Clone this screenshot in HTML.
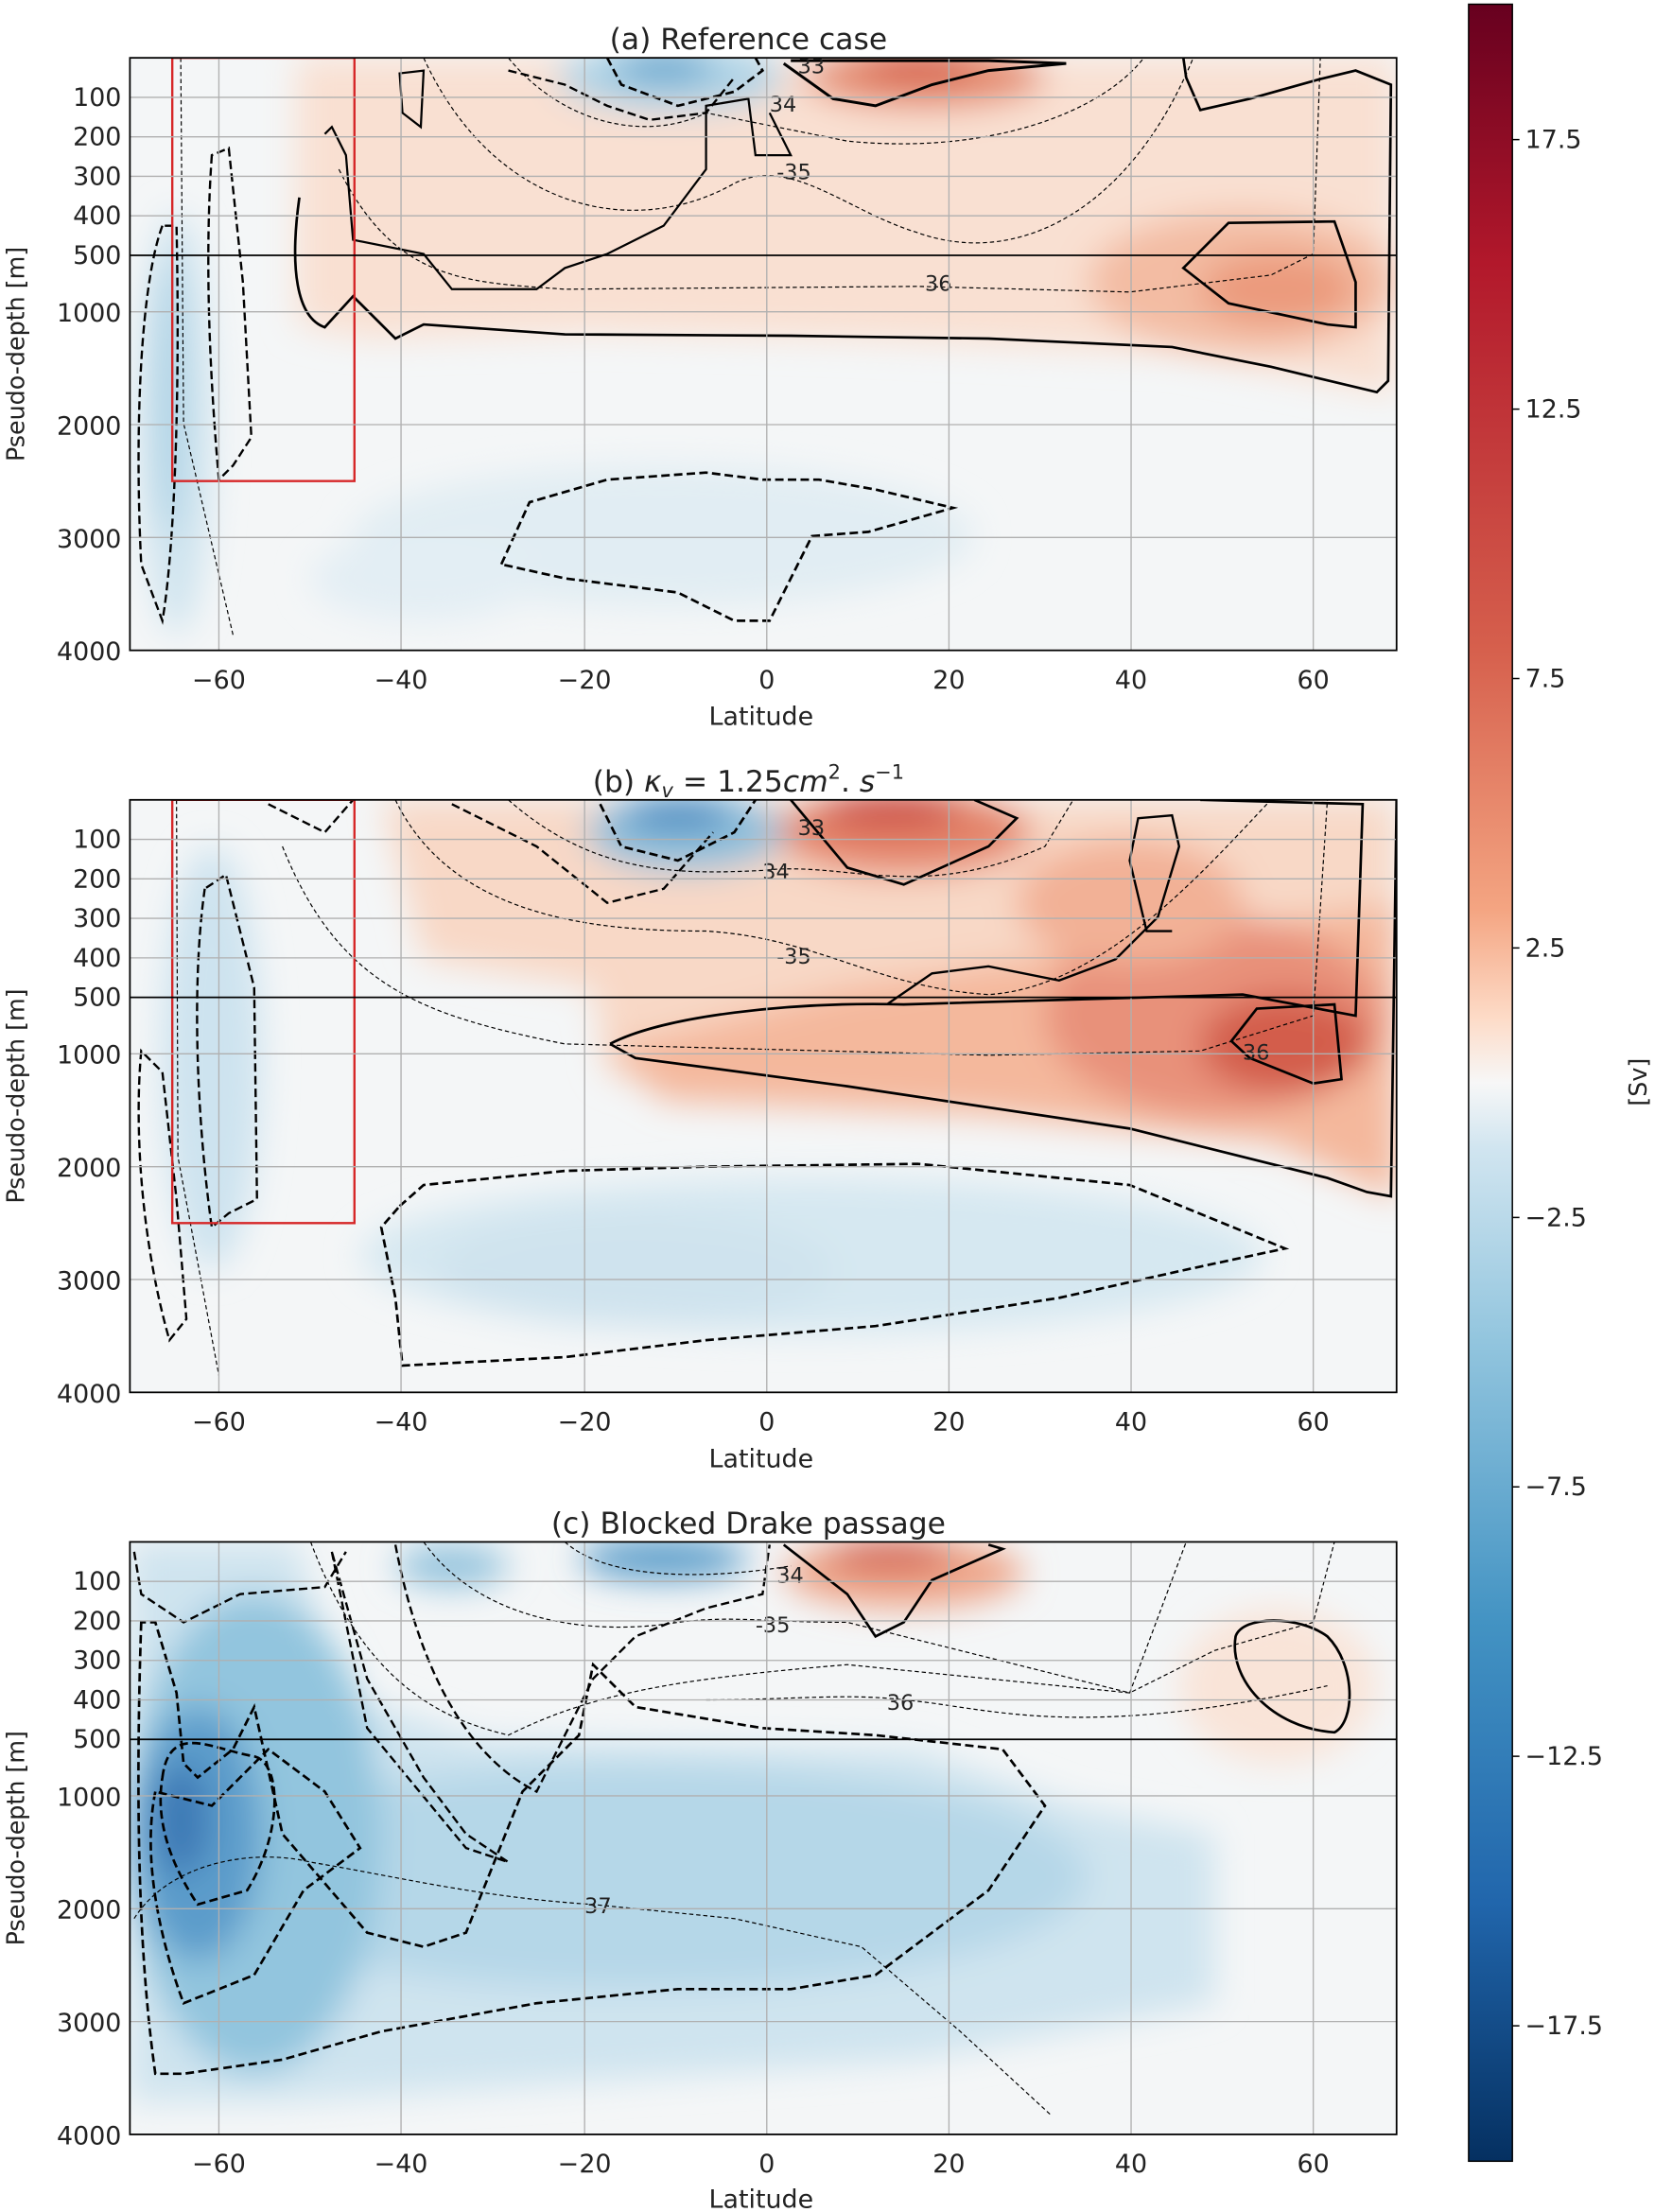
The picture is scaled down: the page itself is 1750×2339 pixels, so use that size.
<!DOCTYPE html>
<html><head><meta charset="utf-8"><style>
html,body{margin:0;padding:0;background:#fff;}
svg{display:block;}
text{font-family:"DejaVu Sans","Liberation Sans",sans-serif;fill:#222;}
</style></head><body>
<svg width="1750" height="2339" viewBox="0 0 1172 1568" preserveAspectRatio="none" xmlns="http://www.w3.org/2000/svg">
<defs>
<filter id="b1" x="-50%" y="-50%" width="200%" height="200%"><feGaussianBlur stdDeviation="12"/></filter>
<clipPath id="ca"><rect x="92" y="41" width="897" height="420"/></clipPath>
<clipPath id="cb"><rect x="92" y="567" width="897" height="420"/></clipPath>
<clipPath id="cc"><rect x="92" y="1093" width="897" height="420"/></clipPath>
<linearGradient id="cbar" x1="0" y1="0" x2="0" y2="1">
<stop offset="0" stop-color="#67001f"/><stop offset="0.12" stop-color="#b2182b"/><stop offset="0.3" stop-color="#d6604d"/><stop offset="0.42" stop-color="#f4a582"/><stop offset="0.47" stop-color="#fddbc7"/><stop offset="0.5" stop-color="#f7f7f7"/><stop offset="0.53" stop-color="#d1e5f0"/><stop offset="0.62" stop-color="#92c5de"/><stop offset="0.75" stop-color="#4393c3"/><stop offset="0.88" stop-color="#2166ac"/><stop offset="1" stop-color="#053061"/>
</linearGradient>
</defs>

<!-- Panel A -->
<g clip-path="url(#ca)">
<rect x="92" y="41" width="897" height="420" fill="#f4f6f7"/>
<g filter="url(#b1)">
<path d="M210,41 L989,41 L989,280 L830,250 L600,240 L420,235 L260,240 L210,230 Z" fill="#f9e0d2"/>
<ellipse cx="880" cy="200" rx="110" ry="50" fill="#f3bca3"/>
<ellipse cx="905" cy="205" rx="55" ry="25" fill="#eb9a7c"/>
<ellipse cx="655" cy="55" rx="85" ry="22" fill="#e58c70"/>
<ellipse cx="650" cy="48" rx="40" ry="10" fill="#d6604d"/>
<ellipse cx="475" cy="55" rx="80" ry="24" fill="#aed3e6"/>
<ellipse cx="470" cy="48" rx="35" ry="10" fill="#5fa2cc"/>
<ellipse cx="125" cy="300" rx="25" ry="150" fill="#cfe4ef"/>
<ellipse cx="120" cy="280" rx="10" ry="100" fill="#a9d0e4"/>
<ellipse cx="470" cy="380" rx="220" ry="50" fill="#e1edf3"/>
<ellipse cx="300" cy="410" rx="80" ry="30" fill="#e3eef4"/>
</g>
<g fill="none" stroke="#000">
<path d="M212,140 C205,190 210,225 230,232 L250,210 L280,240 L300,230 L400,237 L560,238 L700,240 L830,246 L900,260 L975,278 L983,270 L985,60 L960,50 L935,56 L885,70 L850,78 L840,55 L838,41" stroke-width="1.8"/>
<path d="M230,95 L235,90 L245,110 L250,170 L300,180 L320,205 L380,205 L400,190 L430,180 L470,160 L500,120 L500,75 L530,70 L535,110 L560,110 L545,80" stroke-width="1.5"/>
<path d="M283,52 L300,50 L298,90 L285,80 Z" stroke-width="1.5"/>
<path d="M838,190 L870,158 L945,157 L960,200 L960,232 L940,230 L870,215 Z" stroke-width="1.8"/>
<path d="M555,45 L590,70 L620,75 L660,60 L700,50 L755,45 L700,43 L560,43" stroke-width="2"/>
<path d="M430,41 L440,60 L480,75 L520,65 L540,50 L535,41" stroke-width="1.8" stroke-dasharray="6,3"/>
<path d="M360,50 L400,60 L430,75 L460,85 L500,80 L520,55" stroke-width="1.6" stroke-dasharray="6,3"/>
<path d="M115,160 C100,200 95,300 100,400 L115,440 C122,400 128,300 125,160 Z" stroke-width="1.6" stroke-dasharray="6,3"/>
<path d="M150,110 C145,180 148,260 155,340 L165,330 L178,310 L172,200 L162,105 Z" stroke-width="1.6" stroke-dasharray="6,3"/>
<path d="M355,400 L375,356 L430,340 L500,335 L540,340 L580,340 L620,347 L675,360 L615,377 L575,380 L545,440 L520,440 L480,420 L400,410 Z" stroke-width="1.8" stroke-dasharray="6,3"/>
<g stroke-width="0.8" stroke-dasharray="3,2">
<path d="M300,41 C350,150 450,170 520,130 C560,110 600,150 650,165 C720,190 800,150 845,41"/>
<path d="M360,41 C400,90 460,100 500,80 L600,100 C700,110 780,80 810,41"/>
<path d="M240,120 C280,200 330,200 400,205 L650,203 L800,207 L900,195 L930,180 L935,41"/>
<path d="M128,41 L130,300 L165,450"/>
</g>
</g>
<rect x="122" y="41" width="129" height="300" fill="none" stroke="#d62728" stroke-width="1.6"/>
</g>
<g font-size="15">
<text x="550" y="127">-35</text><text x="545" y="79">34</text><text x="655" y="206">36</text><text x="565" y="52">33</text>
</g>

<!-- Panel B -->
<g clip-path="url(#cb)">
<rect x="92" y="567" width="897" height="420" fill="#f4f6f7"/>
<g filter="url(#b1)">
<path d="M270,567 L989,567 L989,850 L900,800 L700,790 L500,780 L430,760 L420,700 L300,680 Z" fill="#f8d8c6"/>
<path d="M430,745 L600,700 L989,640 L989,850 L900,810 L700,790 L470,780 Z" fill="#f4b89c"/>
<ellipse cx="860" cy="720" rx="120" ry="70" fill="#e8917a"/>
<ellipse cx="910" cy="740" rx="60" ry="35" fill="#d35d4c"/>
<ellipse cx="800" cy="640" rx="80" ry="45" fill="#f2b196"/>
<ellipse cx="640" cy="590" rx="90" ry="30" fill="#e4846a"/>
<ellipse cx="630" cy="575" rx="50" ry="10" fill="#c73e3a"/>
<ellipse cx="485" cy="590" rx="70" ry="28" fill="#8fc0dc"/>
<ellipse cx="480" cy="578" rx="40" ry="10" fill="#3e83bd"/>
<ellipse cx="150" cy="750" rx="35" ry="150" fill="#cde3ef"/>
<ellipse cx="575" cy="890" rx="320" ry="55" fill="#d6e8f1"/>
<ellipse cx="450" cy="900" rx="140" ry="40" fill="#cfe3ee"/>
</g>
<g fill="none" stroke="#000">
<path d="M432,740 C470,720 560,710 640,712 L880,705 L960,720 L965,570 L850,567" stroke-width="1.8"/>
<path d="M432,740 L450,750 L600,770 L800,800 L940,835 L968,845 L985,848 L989,567" stroke-width="1.8"/>
<path d="M628,712 L660,690 L700,685 L750,695 L790,680 L820,650 L835,600 L830,578 L806,580 L800,610 L812,660 L830,660" stroke-width="1.6"/>
<path d="M872,738 L890,715 L945,712 L950,765 L930,768 L885,750 Z" stroke-width="1.8"/>
<path d="M560,567 L600,615 L640,627 L700,600 L720,580 L690,567" stroke-width="1.8"/>
<path d="M425,570 L440,600 L480,610 L520,590 L535,567" stroke-width="1.8" stroke-dasharray="6,3"/>
<path d="M320,570 L380,600 L430,640 L470,630 L505,590" stroke-width="1.6" stroke-dasharray="6,3"/>
<path d="M190,570 L230,590 L250,567" stroke-width="1.6" stroke-dasharray="6,3"/>
<path d="M100,745 C95,800 100,880 120,950 L132,935 L125,850 L115,760 Z" stroke-width="1.6" stroke-dasharray="6,3"/>
<path d="M145,630 C135,700 140,800 150,870 L162,860 L182,850 L180,700 L160,620 Z" stroke-width="1.6" stroke-dasharray="6,3"/>
<path d="M283,855 L300,840 L400,830 L500,827 L650,825 L800,840 L910,885 L840,900 L750,920 L620,940 L500,950 L400,962 L285,968 L280,920 L270,870 Z" stroke-width="1.8" stroke-dasharray="6,3"/>
<g stroke-width="0.8" stroke-dasharray="3,2">
<path d="M280,567 C320,650 420,660 500,660 C580,665 620,700 700,705 C780,700 850,620 900,567"/>
<path d="M360,567 C420,620 480,620 540,617 C600,610 650,640 740,600 L760,567"/>
<path d="M200,600 C240,700 300,720 400,740 L700,748 L850,745 L930,720 L940,567"/>
<path d="M125,567 L126,820 L155,975"/>
</g>
</g>
<rect x="122" y="567" width="129" height="300" fill="none" stroke="#d62728" stroke-width="1.6"/>
</g>
<g font-size="15">
<text x="550" y="683">-35</text><text x="540" y="623">34</text><text x="565" y="592">33</text><text x="880" y="751">36</text>
</g>

<!-- Panel C -->
<g clip-path="url(#cc)">
<rect x="92" y="1093" width="897" height="420" fill="#f4f6f7"/>
<g filter="url(#b1)">
<path d="M92,1093 L210,1093 L240,1200 L340,1233 L650,1240 L760,1280 L860,1300 L860,1420 L650,1460 L500,1470 L200,1490 L92,1490 Z" fill="#cfe4ef"/>
<ellipse cx="450" cy="1330" rx="320" ry="80" fill="#b5d7e8"/>
<ellipse cx="180" cy="1300" rx="90" ry="170" fill="#92c5de"/>
<ellipse cx="140" cy="1300" rx="45" ry="90" fill="#5b9ccb"/>
<ellipse cx="128" cy="1290" rx="20" ry="40" fill="#3e79b5"/>
<ellipse cx="470" cy="1105" rx="60" ry="15" fill="#5d9fcb"/>
<ellipse cx="320" cy="1110" rx="40" ry="15" fill="#93c3dd"/>
<ellipse cx="640" cy="1115" rx="85" ry="25" fill="#eea68a"/>
<ellipse cx="630" cy="1103" rx="45" ry="10" fill="#d05849"/>
<ellipse cx="905" cy="1195" rx="70" ry="55" fill="#f9e4d8"/>
</g>
<g fill="none" stroke="#000">
<path d="M555,1095 L600,1130 L620,1160 L640,1150 L660,1120 L710,1098 L700,1095" stroke-width="1.8"/>
<path d="M875,1160 C870,1190 900,1225 945,1228 C960,1220 960,1180 940,1160 C920,1145 880,1145 875,1160 Z" stroke-width="1.8"/>
<path d="M95,1100 L100,1130 L130,1150 L170,1130 L230,1125 L245,1100" stroke-width="1.6" stroke-dasharray="6,3"/>
<path d="M280,1095 C300,1200 340,1250 380,1270 L420,1190 L450,1160 L500,1140 L540,1130 L545,1095" stroke-width="1.6" stroke-dasharray="6,3"/>
<path d="M100,1150 C95,1300 100,1400 110,1470 L130,1470 L200,1460 L270,1440 L380,1420 L480,1410 L560,1410 L620,1400 L700,1340 L740,1280 L710,1240 L620,1230 L540,1225 L450,1210 L420,1180 L410,1230 L370,1270 L350,1320 L330,1370 L300,1380 L260,1370 L200,1300 L180,1210 L165,1240 L140,1260 L130,1250 L125,1200 L110,1150 Z" stroke-width="1.8" stroke-dasharray="6,3"/>
<path d="M110,1270 C100,1320 115,1380 130,1420 L180,1400 L215,1340 L255,1310 L230,1270 L190,1240 L150,1280 Z" stroke-width="1.8" stroke-dasharray="6,3"/>
<path d="M115,1260 C120,1220 150,1240 180,1245 C200,1250 200,1300 175,1340 L140,1350 C120,1320 110,1290 115,1260 Z" stroke-width="1.8" stroke-dasharray="6,3"/>
<path d="M235,1100 L260,1225 L330,1310 L360,1320 L330,1300 L300,1260 L260,1190 Z" stroke-width="1.6" stroke-dasharray="6,3"/>
<g stroke-width="0.8" stroke-dasharray="3,2">
<path d="M220,1093 C260,1200 320,1220 360,1230 C420,1200 480,1190 600,1180 L700,1190 L800,1200 L860,1170 L930,1150 L945,1093"/>
<path d="M300,1093 C340,1150 420,1160 480,1150 C520,1145 540,1150 600,1150 L700,1175 L800,1200 L840,1093"/>
<path d="M400,1093 C430,1120 500,1120 560,1110"/>
<path d="M500,1205 C560,1205 600,1200 640,1205 C700,1210 760,1235 940,1195"/>
<path d="M95,1360 C120,1320 180,1310 220,1320 C280,1330 340,1345 420,1350 L520,1360 L610,1380 L680,1440 L745,1500"/>
</g>
</g>
</g>
<g font-size="15">
<text x="535" y="1157">-35</text><text x="550" y="1122">34</text><text x="628" y="1212">36</text><text x="414" y="1356">37</text>
</g>

<!-- grids and axes -->
<g>
<g stroke="#b0b0b0" stroke-width="0.9">
<path d="M155,41V461M284,41V461M414,41V461M543,41V461M672,41V461M801,41V461M930,41V461M92,69H989M92,97H989M92,125H989M92,153H989M92,221H989M92,301H989M92,381H989"/>
<path d="M155,567V987M284,567V987M414,567V987M543,567V987M672,567V987M801,567V987M930,567V987M92,595H989M92,623H989M92,651H989M92,679H989M92,747H989M92,827H989M92,907H989"/>
<path d="M155,1093V1513M284,1093V1513M414,1093V1513M543,1093V1513M672,1093V1513M801,1093V1513M930,1093V1513M92,1121H989M92,1149H989M92,1177H989M92,1205H989M92,1273H989M92,1353H989M92,1433H989"/>
</g>
<g stroke="#000" stroke-width="1.2" fill="none">
<path d="M92,181H989M92,707H989M92,1233H989"/>
<rect x="92" y="41" width="897" height="420"/><rect x="92" y="567" width="897" height="420"/><rect x="92" y="1093" width="897" height="420"/>
</g>
</g>
<g font-size="21" text-anchor="middle">
<text x="530" y="35">(a) Reference case</text>
<text x="530" y="561">(b) <tspan font-style="italic">κ<tspan font-size="14" dy="4">v</tspan></tspan><tspan dy="-4"> = 1.25</tspan><tspan font-style="italic">cm</tspan><tspan font-size="14" dy="-9">2</tspan><tspan dy="9">. </tspan><tspan font-style="italic">s</tspan><tspan font-size="14" dy="-9">−1</tspan></text>
<text x="530" y="1087">(c) Blocked Drake passage</text>
</g>
<g font-size="18" text-anchor="middle">
<text x="155" y="488">−60</text><text x="284" y="488">−40</text><text x="414" y="488">−20</text><text x="543" y="488">0</text><text x="672" y="488">20</text><text x="801" y="488">40</text><text x="930" y="488">60</text>
<text x="539" y="514">Latitude</text>
<text x="155" y="1014">−60</text><text x="284" y="1014">−40</text><text x="414" y="1014">−20</text><text x="543" y="1014">0</text><text x="672" y="1014">20</text><text x="801" y="1014">40</text><text x="930" y="1014">60</text>
<text x="539" y="1040">Latitude</text>
<text x="155" y="1540">−60</text><text x="284" y="1540">−40</text><text x="414" y="1540">−20</text><text x="543" y="1540">0</text><text x="672" y="1540">20</text><text x="801" y="1540">40</text><text x="930" y="1540">60</text>
<text x="539" y="1565">Latitude</text>
</g>
<g font-size="18" text-anchor="end">
<text x="86" y="75">100</text><text x="86" y="103">200</text><text x="86" y="131">300</text><text x="86" y="159">400</text><text x="86" y="187">500</text><text x="86" y="228">1000</text><text x="86" y="308">2000</text><text x="86" y="388">3000</text><text x="86" y="468">4000</text>
<text x="86" y="601">100</text><text x="86" y="629">200</text><text x="86" y="657">300</text><text x="86" y="685">400</text><text x="86" y="713">500</text><text x="86" y="754">1000</text><text x="86" y="834">2000</text><text x="86" y="914">3000</text><text x="86" y="994">4000</text>
<text x="86" y="1127">100</text><text x="86" y="1155">200</text><text x="86" y="1183">300</text><text x="86" y="1211">400</text><text x="86" y="1239">500</text><text x="86" y="1280">1000</text><text x="86" y="1360">2000</text><text x="86" y="1440">3000</text><text x="86" y="1520">4000</text>
</g>
<g font-size="17" text-anchor="middle">
<text transform="translate(17,251) rotate(-90)">Pseudo-depth [m]</text>
<text transform="translate(17,777) rotate(-90)">Pseudo-depth [m]</text>
<text transform="translate(17,1303) rotate(-90)">Pseudo-depth [m]</text>
</g>

<!-- colorbar -->
<rect x="1040" y="3" width="31" height="1529" fill="url(#cbar)" stroke="#000" stroke-width="1"/>
<g stroke="#000" stroke-width="1"><path d="M1071,99h5M1071,290h5M1071,481h5M1071,672h5M1071,863h5M1071,1054h5M1071,1245h5M1071,1436h5"/></g>
<g font-size="18">
<text x="1080" y="105">17.5</text><text x="1080" y="296">12.5</text><text x="1080" y="487">7.5</text><text x="1080" y="678">2.5</text>
<text x="1080" y="869">−2.5</text><text x="1080" y="1060">−7.5</text><text x="1080" y="1251">−12.5</text><text x="1080" y="1442">−17.5</text>
</g>
<text font-size="17" text-anchor="middle" transform="translate(1166,767) rotate(-90)">[Sv]</text>
</svg>
</body></html>
